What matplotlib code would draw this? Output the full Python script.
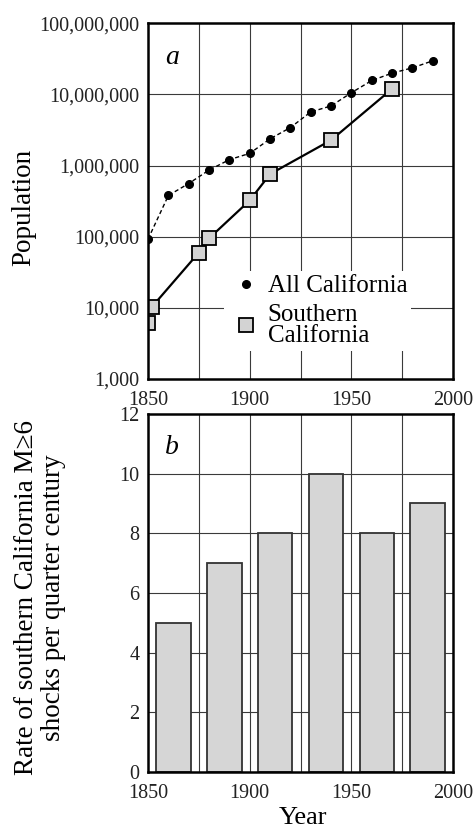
import numpy as np
import matplotlib
matplotlib.use("Agg")
import matplotlib.pyplot as plt
from matplotlib.ticker import FixedLocator, NullFormatter

plt.rcParams['font.family'] = ['Liberation Serif', 'DejaVu Serif']

# Data for panel a: population
all_ca_years = [1850, 1860, 1870, 1880, 1890, 1900, 1910, 1920, 1930, 1940,
                1950, 1960, 1970, 1980, 1990]
all_ca_pop = [92597, 379994, 560247, 864694, 1213398, 1485053, 2377549,
              3426861, 5677251, 6907387, 10586223, 15717204, 19953134,
              23667902, 29760021]
socal_years = [1850, 1852, 1875, 1880, 1900, 1910, 1940, 1970]
socal_pop = [6100, 10400, 60000, 95000, 324000, 760000, 2280000, 12000000]

# Data for panel b: M>=6 shock rate per quarter century
bar_centers = [1862.5, 1887.5, 1912.5, 1937.5, 1962.5, 1987.5]
bar_rates = [5, 7, 8, 10, 8, 9]

pop_ticks = [1e3, 1e4, 1e5, 1e6, 1e7, 1e8]
pop_labels = ['1,000', '10,000', '100,000', '1,000,000', '10,000,000',
              '100,000,000']
year_ticks = [1850, 1900, 1950, 2000]
year_grid = [1875, 1900, 1925, 1950, 1975]

fig = plt.figure(figsize=(4.76, 8.33), dpi=100)
ax1 = fig.add_axes([0.311, 0.545, 0.641, 0.427])
ax2 = fig.add_axes([0.311, 0.0732, 0.641, 0.430])

grid_kw = dict(color='#3a3a3a', lw=0.8, zorder=0)

# ---- panel a ----
ax1.set_yscale('log')
ax1.set_xlim(1850, 2000)
ax1.set_ylim(1e3, 1e8)
for yr in year_grid:
    ax1.axvline(yr, **grid_kw)
for p in pop_ticks[1:-1]:
    ax1.axhline(p, **grid_kw)

ax1.plot(all_ca_years, all_ca_pop, color='black', ls=(0, (3, 2)), lw=1.0,
         zorder=2)
ax1.plot(all_ca_years, all_ca_pop, 'o', color='black', ms=5.5, ls='none',
         zorder=3, label='All California')
ax1.plot(socal_years[1:], socal_pop[1:], color='black', lw=1.6, zorder=2)
ax1.plot(socal_years, socal_pop, 's', mfc='#d3d3d3', mec='black', mew=1.3,
         ms=9.5, ls='none', zorder=4, label='Southern\nCalifornia')

ax1.yaxis.set_major_locator(FixedLocator(pop_ticks))
ax1.set_yticklabels(pop_labels)
ax1.yaxis.set_minor_formatter(NullFormatter())
ax1.yaxis.set_minor_locator(FixedLocator([]))
ax1.set_xticks(year_ticks)
ax1.text(-0.407, 0.483, 'Population', transform=ax1.transAxes, fontsize=19.5,
         rotation=90, ha='center', va='center')
ax1.text(0.055, 0.905, 'a', transform=ax1.transAxes, fontsize=20,
         style='italic', ha='left', va='center')
leg = ax1.legend(loc='lower right', bbox_to_anchor=(0.862, 0.08),
                 frameon=True, fontsize=18, handletextpad=0.1,
                 borderpad=0.15, labelspacing=0.25, handlelength=1.5,
                 borderaxespad=0, fancybox=False)
for t in leg.get_texts():
    t.set_linespacing(0.95)
leg.get_frame().set_edgecolor('none')
leg.get_frame().set_facecolor('white')
leg.get_frame().set_alpha(1)
leg.set_zorder(1)

# ---- panel b ----
ax2.set_xlim(1850, 2000)
ax2.set_ylim(0, 12)
for yr in year_grid:
    ax2.axvline(yr, **grid_kw)
for v in [2, 4, 6, 8, 10]:
    ax2.axhline(v, **grid_kw)
ax2.bar(bar_centers, bar_rates, width=17, color='#d6d6d6',
        edgecolor='#333333', linewidth=1.3, zorder=2)
ax2.set_xticks(year_ticks)
ax2.set_yticks(np.arange(0, 13, 2))
ax2.text(0.508, -0.128, 'Year', transform=ax2.transAxes, fontsize=19,
         ha='center', va='center')
ax2.text(-0.354, 0.486,
         'Rate of southern California M\u22656\nshocks per quarter century',
         transform=ax2.transAxes, fontsize=19.5, rotation=90, ha='center',
         va='center', linespacing=1.1, multialignment='center')
ax2.text(0.055, 0.905, 'b', transform=ax2.transAxes, fontsize=20,
         style='italic', ha='left', va='center')

for ax in (ax1, ax2):
    for s in ax.spines.values():
        s.set_linewidth(1.8)
        s.set_zorder(5)
    ax.tick_params(length=0, labelsize=14.5, colors='#222222')
    ax.tick_params(axis='y', pad=6)
    ax.tick_params(axis='x', pad=8.5)

fig.savefig('out.png', dpi=100)
